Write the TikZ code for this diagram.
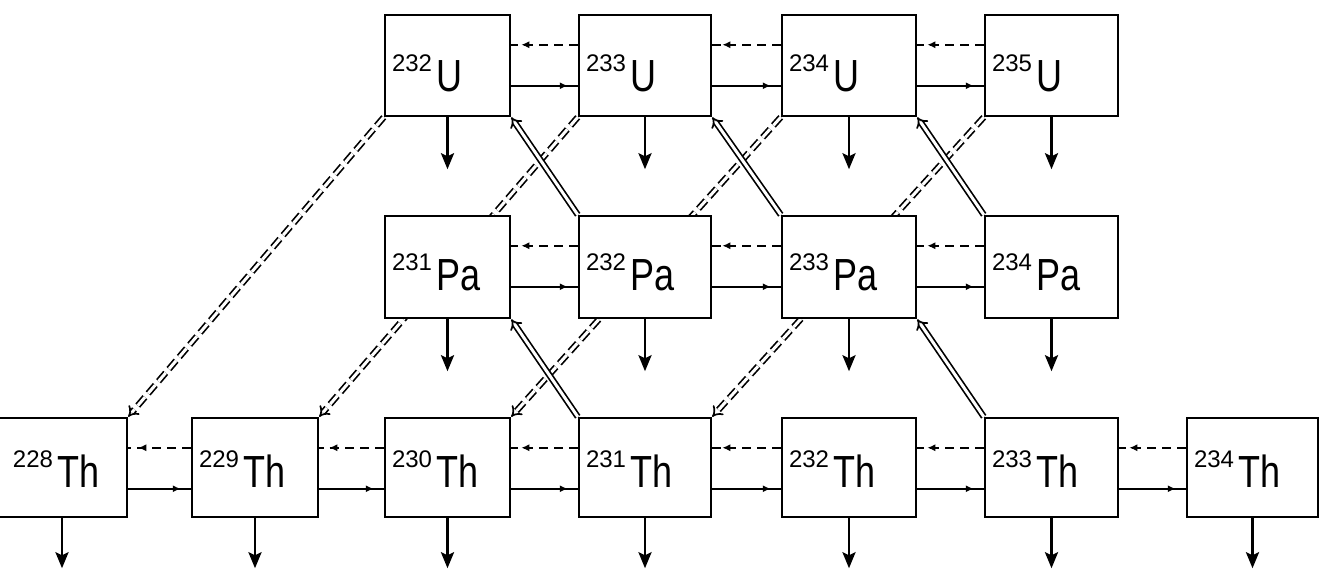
\documentclass[tikz,border=0pt]{standalone}
\usepackage{fontspec}
\setmainfont{Liberation Sans}
\usepackage{graphicx}
\usetikzlibrary{arrows.meta,decorations.markings}
\pgfdeclarelayer{bg}
\pgfsetlayers{bg,main}
\newcommand{\iso}[2]{\raisebox{20pt}{\fontsize{24pt}{24pt}\selectfont #1}\hspace{4pt}\scalebox{0.8}[1]{\fontsize{45pt}{45pt}\selectfont #2}}
\newcommand{\hpair}[2]{%
  \draw[hd] ([yshift=-31pt]#2.north west) -- ([yshift=-31pt]#1.north east);
  \draw[hs] ([yshift=-72pt]#1.north east) -- ([yshift=-72pt]#2.north west);}
\begin{document}
\begin{tikzpicture}[x=1pt,y=-1pt,
  box/.style={draw, line width=2.5pt, fill=white, inner xsep=7pt, inner ysep=0pt, align=left},
  urow/.style={minimum height=101pt, text height=52pt},
  parow/.style={minimum height=102pt, text height=48pt},
  throw/.style={minimum height=99pt, text height=40pt},
  cA/.style={minimum width=126pt, text width=112pt},
  cB/.style={minimum width=125pt, text width=111pt},
  cC/.style={minimum width=132pt, text width=118pt},
  cD/.style={minimum width=134pt, text width=120pt},
  cE/.style={minimum width=133pt, text width=119pt},
  cF/.style={minimum width=131pt, text width=117pt},
  hline/.style={line width=2pt},
  hd/.style={hline, dash pattern=on 9pt off 6pt, postaction={decorate},
    decoration={markings, mark=at position -10pt with {\arrow{Latex[length=8pt,width=7pt]}}}},
  hs/.style={hline, postaction={decorate},
    decoration={markings, mark=at position -10pt with {\arrow{Latex[length=8pt,width=7pt]}}}},
  down/.style={line width=2.6pt, -{Stealth[length=16pt,width=13pt,inset=3pt]}},
  dd/.style={double, double distance=3pt, line width=1.7pt, dash pattern=on 11pt off 5pt, -{Implies[scale=1.6]}},
  ds/.style={double, double distance=3pt, line width=1.7pt, -{Implies[scale=1.6]}}
]
\useasboundingbox (0,0) rectangle (1320,572);
\clip (0,0) rectangle (1320,572);

% U row
\node[box,urow,cB] (u232) at (447.5,65.5) {\iso{232}{U}};
\node[box,urow,cC] (u233) at (645,65.5) {\iso{233}{U}};
\node[box,urow,cD] (u234) at (849,65.5) {\iso{234}{U}};
\node[box,urow,cE] (u235) at (1051.5,65.5) {\iso{235}{U}};
% Pa row
\node[box,parow,cB] (pa231) at (447.5,267) {\iso{231}{Pa}};
\node[box,parow,cC] (pa232) at (645,267) {\iso{232}{Pa}};
\node[box,parow,cD] (pa233) at (849,267) {\iso{233}{Pa}};
\node[box,parow,cE] (pa234) at (1051.5,267) {\iso{234}{Pa}};
% Th row
\node[box,throw,minimum width=154pt,text width=140pt] (th228) at (50,467.5) {\hspace*{33pt}\iso{228}{Th}};
\node[box,throw,cA] (th229) at (255,467.5) {\iso{229}{Th}};
\node[box,throw,cB] (th230) at (447.5,467.5) {\iso{230}{Th}};
\node[box,throw,cC] (th231) at (645,467.5) {\iso{231}{Th}};
\node[box,throw,cD] (th232) at (849,467.5) {\iso{232}{Th}};
\node[box,throw,cE] (th233) at (1051.5,467.5) {\iso{233}{Th}};
\node[box,throw,cF] (th234) at (1252.5,467.5) {\iso{234}{Th}};

\begin{pgfonlayer}{bg}
% horizontal arrows
\hpair{u232}{u233}
\hpair{u233}{u234}
\hpair{u234}{u235}
\hpair{pa231}{pa232}
\hpair{pa232}{pa233}
\hpair{pa233}{pa234}
\hpair{th228}{th229}
\hpair{th229}{th230}
\hpair{th230}{th231}
\hpair{th231}{th232}
\hpair{th232}{th233}
\hpair{th233}{th234}
% down arrows
\foreach \n in {u232,u233,u234,u235,pa231,pa232,pa233,pa234}
  \draw[down] (\n.south) -- ++(0,52);
\draw[down] ([xshift=12pt]th228.south) -- ++(0,50);
\foreach \n in {th229,th230,th231,th232,th233,th234}
  \draw[down] (\n.south) -- ++(0,50);
% double dashed
\draw[dd] (u232.south west) -- (th228.north east);
\draw[dd] (u233.south west) -- (th229.north east);
\draw[dd] (u234.south west) -- (th230.north east);
\draw[dd] (u235.south west) -- (th231.north east);
% double solid
\draw[ds] (pa232.north west) -- (u232.south east);
\draw[ds] (pa233.north west) -- (u233.south east);
\draw[ds] (pa234.north west) -- (u234.south east);
\draw[ds] (th231.north west) -- (pa231.south east);
\draw[ds] (th233.north west) -- (pa233.south east);
\end{pgfonlayer}
\end{tikzpicture}
\end{document}
